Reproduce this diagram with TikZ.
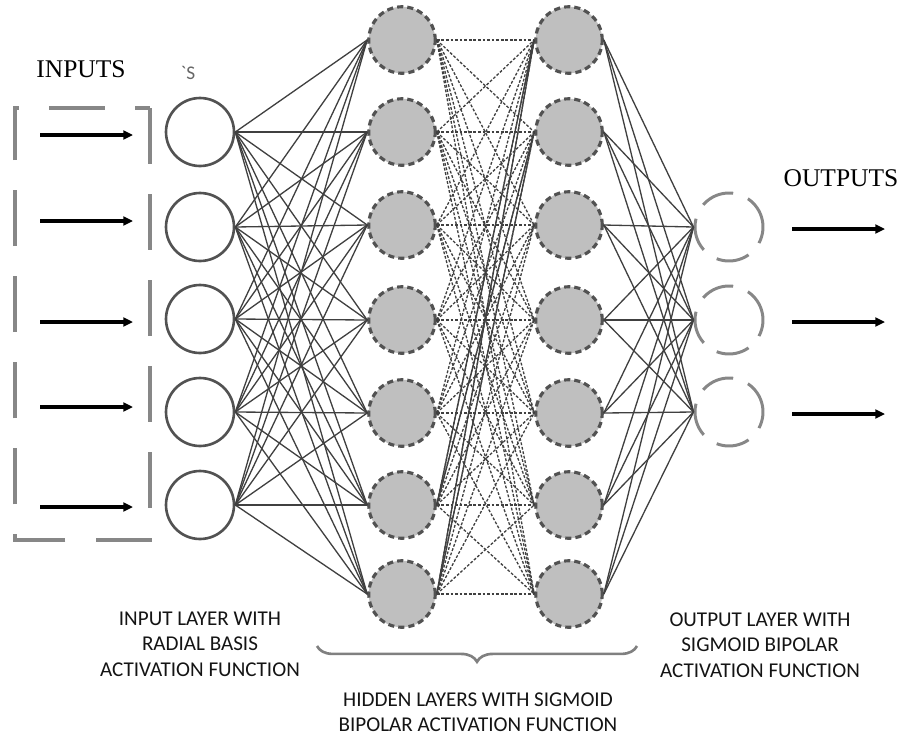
\documentclass[tikz,border=0pt]{standalone}
\usepackage{fontspec}
\setmainfont{Liberation Serif}
\newfontfamily\labelfont{Carlito}
\usetikzlibrary{arrows.meta,decorations.pathreplacing}

\tikzset{
  inneuron/.style={circle,draw=black!68,line width=1.5pt,minimum size=1.36cm,inner sep=0pt},
  hidneuron/.style={circle,draw=black!68,fill=black!25,line width=1.8pt,dash pattern=on 3.5pt off 2.3pt,minimum size=1.33cm,inner sep=0pt},
  outneuron/.style={circle,draw=black!47,line width=1.7pt,dash pattern=on 19pt off 9pt,minimum size=1.36cm,inner sep=0pt},
  link/.style={draw=black!75,line width=0.75pt},
  dotlink/.style={link,dash pattern=on 1.6pt off 1pt},
  sig/.style={black,line width=2pt,-{Triangle[length=5.5pt,width=5pt]}},
  boxline/.style={draw=black!47,line width=1.8pt,dash pattern=on 31.9pt off 17.1pt},
  caption/.style={font=\labelfont\fontsize{12}{14.5}\selectfont,align=center,text=black!92}
}

\begin{document}
\begin{tikzpicture}[x=0.02cm,y=-0.02cm]
%\draw [help lines, color=lightgray] (0,0) grid[step=50] (914,738);
\useasboundingbox (0,0) rectangle (914,738);

% layers
\foreach \i/\y in {1/132,2/227,3/319,4/412,5/505}
  \node [inneuron] (in\i) at (200,\y) {};
\foreach \i/\y in {1/40,2/132,3/225,4/320,5/413,6/505,7/594} {
  \node [hidneuron] (ha\i) at (402,\y) {};
  \node [hidneuron] (hb\i) at (569,\y) {};
}
\foreach \i/\y in {1/227,2/320,3/412}
  \node [outneuron] (out\i) at (729,\y) {};

% weights
\foreach \i in {1,...,5}
  \foreach \j in {1,...,7}
    \draw [link] (in\i.east) -- (ha\j.west);
\foreach \i in {1,...,7}
  \foreach \j in {1,...,7}
    \draw [dotlink] (ha\i.east) -- (hb\j.west);
\foreach \i/\j in {6/1,7/1,6/2,7/2}
  \draw [link] (ha\i.east) -- (hb\j.west);
\foreach \i in {1,...,7}
  \foreach \j in {1,...,3}
    \draw [link] (hb\i.east) -- (out\j.west);

% inputs and outputs
\draw [boxline] (150,108) coordinate (boxtr) -- (150,540) -- (15,540) -- (15,108) -- cycle;
\foreach \i/\y in {1/135,2/221,3/322,4/407,5/507} {
  \coordinate (src\i) at (40,\y);
  \coordinate (dst\i) at (133,\y);
  \draw [sig] (src\i) -- (dst\i);
}
\foreach \i/\y in {1/229,2/322,3/414} {
  \coordinate (ysrc\i) at (792,\y);
  \coordinate (ydst\i) at (885,\y);
  \draw [sig] (ysrc\i) -- (ydst\i);
}

\node [font=\fontsize{14.5}{17}\selectfont] (inputs) at (81,69) {INPUTS};
\node [font=\fontsize{14.5}{17}\selectfont] (outputs) at (841,178) {OUTPUTS};
\node [font=\labelfont\fontsize{11}{13}\selectfont,text=black!60] (tick) at (188,73) {`S};

% captions
\coordinate (bracer) at (637,646);
\coordinate (bracel) at (317,646);
\draw [black!50,line width=1.5pt,decorate,decoration={brace,amplitude=9pt}] (bracer) -- (bracel);
\node [caption] (inlabel) at (200,644) {INPUT LAYER WITH\\RADIAL BASIS\\ACTIVATION FUNCTION};
\node [caption] (hidlabel) at (478,712) {HIDDEN LAYERS WITH SIGMOID\\BIPOLAR ACTIVATION FUNCTION};
\node [caption] (outlabel) at (760,645) {OUTPUT LAYER WITH\\SIGMOID BIPOLAR\\ACTIVATION FUNCTION};

\end{tikzpicture}
\end{document}
